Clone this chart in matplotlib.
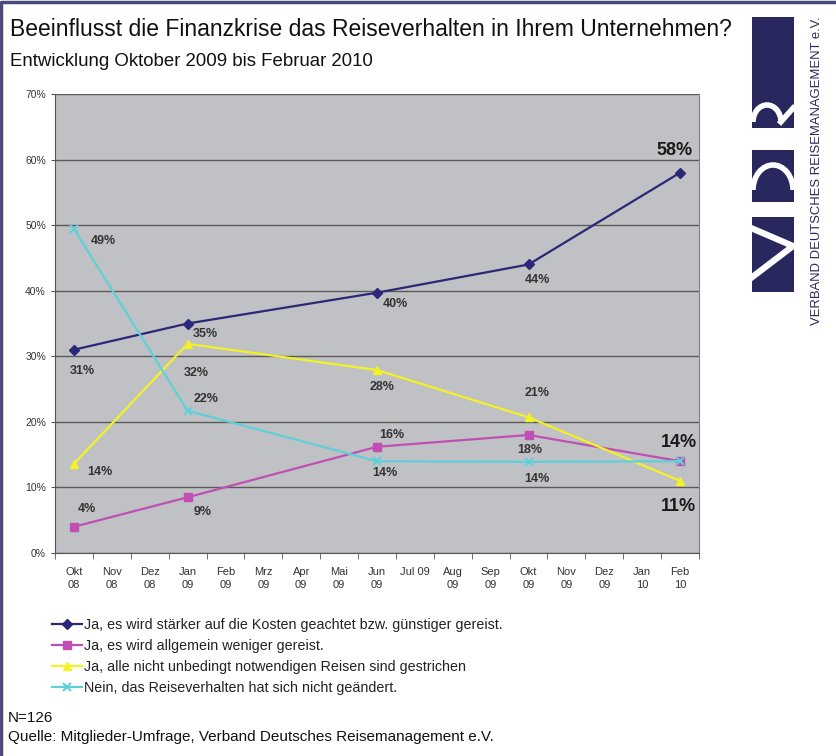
import matplotlib
matplotlib.use("Agg")
import matplotlib.pyplot as plt
from matplotlib.patches import Rectangle, Arc

plt.rcParams['font.family'] = ['Liberation Sans', 'DejaVu Sans']

# x axis categories (month, year)
months = ["Okt\n08", "Nov\n08", "Dez\n08", "Jan\n09", "Feb\n09", "Mrz\n09", "Apr\n09",
          "Mai\n09", "Jun\n09", "Jul 09", "Aug\n09", "Sep\n09", "Okt\n09", "Nov\n09",
          "Dez\n09", "Jan\n10", "Feb\n10"]
survey_idx = [0, 3, 8, 12, 16]  # survey dates: Okt 08, Jan 09, Jun 09, Okt 09, Feb 10

series_names = [
    "Ja, es wird stärker auf die Kosten geachtet bzw. günstiger gereist.",
    "Ja, es wird allgemein weniger gereist.",
    "Ja, alle nicht unbedingt notwendigen Reisen sind gestrichen",
    "Nein, das Reiseverhalten hat sich nicht geändert.",
]
kosten = [31, 35, 39.7, 44, 58]
weniger = [4, 8.5, 16.2, 18, 14]
gestrichen = [13.6, 31.9, 27.9, 20.7, 11]
unveraendert = [49.4, 21.7, 14, 13.9, 14]

kosten_lbl = ["31%", "35%", "40%", "44%", "58%"]
weniger_lbl = ["4%", "9%", "16%", "18%", "14%"]
gestrichen_lbl = ["14%", "32%", "28%", "21%", "11%"]
unveraendert_lbl = ["49%", "22%", "14%", "14%", ""]

colors = ["#2b2878", "#c04fb4", "#f2f224", "#5fd0d8"]
markers = ["D", "s", "^", "x"]
navy = "#28285e"

# label offsets in pixels (dx, dy) from each point
offsets = [
    [(8, -21), (18, -10), (18, -11), (9, -16), (-6, 22)],
    [(13, 18), (15, -15), (15, 12), (1, -15), (-1, 19)],
    [(26, -8), (9, -29), (5, -17), (9, 24), (-2, -26)],
    [(29, -12), (18, 12), (8, -12), (8, -17), (0, 0)],
]

W, H = 837, 756
fig = plt.figure(figsize=(W / 100, H / 100), dpi=100)

# full-figure overlay in pixel coordinates for frame and logo
bg = fig.add_axes([0, 0, 1, 1])
bg.set_xlim(0, W)
bg.set_ylim(H, 0)
bg.set_axis_off()

ax = fig.add_axes([55 / W, 1 - 553 / H, 644 / W, 459 / H])
ax.set_facecolor("#c0c1c4")

all_vals = [kosten, weniger, gestrichen, unveraendert]
all_lbls = [kosten_lbl, weniger_lbl, gestrichen_lbl, unveraendert_lbl]
for i in range(4):
    ms = 6 if markers[i] != "D" else 5.5
    ax.plot(survey_idx, all_vals[i], color=colors[i], marker=markers[i], markersize=ms,
            markeredgewidth=1.5 if markers[i] == "x" else 1, linewidth=1.6,
            label=series_names[i], zorder=3)
    for j, t in enumerate(all_lbls[i]):
        if not t:
            continue
        big = j == len(survey_idx) - 1
        ax.annotate(t, (survey_idx[j], all_vals[i][j]), xytext=offsets[i][j],
                    textcoords="offset pixels", ha="center", va="center",
                    fontsize=13 if big else 9, fontweight="bold",
                    color="#1a1a1a" if big else "#333333", zorder=4)

ax.set_xlim(-0.5, len(months) - 0.5)
ax.set_ylim(0, 70)
ax.set_yticks(range(0, 71, 10))
ax.set_yticklabels([f"{v}%" for v in range(0, 71, 10)], fontsize=7.5, color="#333333")
ax.yaxis.grid(True, color="#5a5a5a", linewidth=1)
ax.set_axisbelow(True)

ax.set_xticks(range(len(months)))
ax.set_xticklabels(months, fontsize=8, color="#333333", va="top", linespacing=1.35)
ax.tick_params(axis="x", length=0, pad=10)
ax.set_xticks([k - 0.5 for k in range(len(months) + 1)], minor=True)
ax.tick_params(axis="x", which="minor", length=4, color="#555555")
ax.tick_params(axis="y", length=3, color="#555555")

ax.spines["top"].set_visible(False)
ax.spines["right"].set_color("#808080")
ax.spines["left"].set_color("#555555")
ax.spines["bottom"].set_color("#555555")

leg = fig.legend(loc="upper left", bbox_to_anchor=(52 / W, 1 - 618 / H), frameon=False,
                 fontsize=10.3, handlelength=2.1, handletextpad=0.15, labelspacing=0.5,
                 numpoints=1, borderaxespad=0, borderpad=0)
for t in leg.get_texts():
    t.set_color("#222222")

bg.text(10, 30, "Beeinflusst die Finanzkrise das Reiseverhalten in Ihrem Unternehmen?",
        fontsize=16.5, va="center", ha="left", color="#111111")
bg.text(10, 62, "Entwicklung Oktober 2009 bis Februar 2010",
        fontsize=13.4, va="center", ha="left", color="#111111")
bg.text(8, 718, "N=126", fontsize=11, va="center", ha="left", color="#111111")
bg.text(8, 737, "Quelle: Mitglieder-Umfrage, Verband Deutsches Reisemanagement e.V.",
        fontsize=11, va="center", ha="left", color="#111111")

# VDR logo: navy blocks with white strokes forming the letters
for y0, y1 in [(17, 128), (150, 202), (217, 292)]:
    bg.add_patch(Rectangle((752, y0), 42, y1 - y0, facecolor=navy, edgecolor="none"))
# R
bg.add_patch(Arc((767, 122), 28, 34, theta1=180, theta2=360, color="white", linewidth=4))
bg.plot([779, 795], [124, 106], color="white", linewidth=4, solid_capstyle="butt")
# D
bg.add_patch(Arc((773, 190), 40, 50, theta1=180, theta2=360, color="white", linewidth=4))
# V
bg.plot([751, 793, 751], [228, 246, 278], color="white", linewidth=4.5,
        solid_joinstyle="miter")
bg.text(817, 171, "VERBAND DEUTSCHES REISEMANAGEMENT e.V.", rotation=90,
        fontsize=9.4, color=navy, ha="center", va="center")

# frame (top and left edges)
bg.plot([1.5, 1.5, W], [H, 1.5, 1.5], color="#4a4a7a", linewidth=2.5)

fig.savefig("out.png", dpi=100)
